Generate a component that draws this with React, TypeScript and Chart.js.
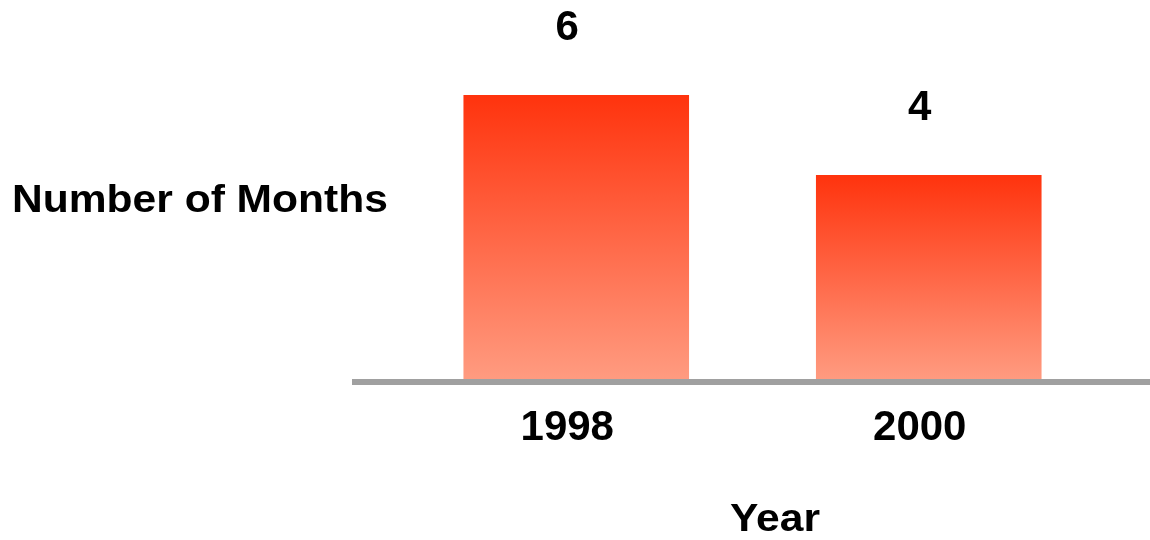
import React, { useEffect, useRef } from "react";
import { Chart, registerables } from "chart.js";

Chart.register(...registerables);

const years = ["1998", "2000"];
const months = [6, 4];
const axisMin = -1.1;
const axisMax = 8;

const FONT = '"Liberation Sans", Arial, Helvetica, sans-serif';
const TOP_COLOR = "#FF330D";
const BOTTOM_COLOR = "#FF9B80";

// draws a bold title slightly widened horizontally
function drawWideText(ctx: CanvasRenderingContext2D, text: string, x: number, y: number, align: CanvasTextAlign) {
  ctx.save();
  ctx.translate(x, y);
  ctx.scale(1.12, 1);
  ctx.font = `bold 38px ${FONT}`;
  ctx.textAlign = align;
  ctx.textBaseline = "alphabetic";
  ctx.fillStyle = "#000";
  ctx.fillText(text, 0, 0);
  ctx.restore();
}

const textPlugin = {
  id: "monthsText",
  afterDatasetsDraw(chart: any) {
    const { ctx, chartArea } = chart;
    const meta = chart.getDatasetMeta(0);
    ctx.save();

    // baseline running under both bars
    ctx.strokeStyle = "#A0A0A0";
    ctx.lineWidth = 6;
    ctx.beginPath();
    ctx.moveTo(chartArea.left - 48, chartArea.bottom + 3);
    ctx.lineTo(chart.width, chartArea.bottom + 3);
    ctx.stroke();

    // value labels above bars
    ctx.fillStyle = "#000";
    ctx.font = `bold 42px ${FONT}`;
    ctx.textAlign = "center";
    ctx.textBaseline = "middle";
    meta.data.forEach((bar: any, i: number) => {
      ctx.fillText(String(months[i]), bar.x - 9, bar.y - 67);
    });
    ctx.restore();

    // value-axis title, drawn horizontally
    drawWideText(ctx, "Number of Months", 12, 212, "left");
    // category-axis title
    drawWideText(ctx, "Year", 775, 531, "center");
  },
};

export default function App() {
  const canvasRef = useRef<HTMLCanvasElement | null>(null);

  useEffect(() => {
    if (!canvasRef.current) return;
    const chart = new Chart(canvasRef.current, {
      type: "bar",
      data: {
        labels: years,
        datasets: [
          {
            data: months,
            base: axisMin,
            barPercentage: 0.8,
            categoryPercentage: 0.8,
            borderWidth: 0,
            backgroundColor: (c: any) => {
              const chartRef = c.chart;
              const y = chartRef.scales && chartRef.scales.y;
              if (!y || c.raw === undefined) return TOP_COLOR;
              const top = y.getPixelForValue(c.raw);
              const bottom = y.getPixelForValue(axisMin);
              if (!isFinite(top) || !isFinite(bottom) || top === bottom) return TOP_COLOR;
              const g = chartRef.ctx.createLinearGradient(0, top, 0, bottom);
              g.addColorStop(0, TOP_COLOR);
              g.addColorStop(1, BOTTOM_COLOR);
              return g;
            },
          } as any,
        ],
      },
      options: {
        responsive: false,
        animation: false,
        layout: { padding: { left: 400, right: 45, top: 15, bottom: 0 } },
        plugins: {
          legend: { display: false },
          tooltip: { enabled: false },
          title: { display: false },
        },
        scales: {
          x: {
            grid: { display: false, drawTicks: false },
            border: { display: false },
            ticks: {
              color: "#000",
              font: { family: FONT, size: 42, weight: "bold" },
              padding: 24,
              labelOffset: -9,
            },
            afterFit: (scale: any) => {
              scale.height = 161;
            },
          },
          y: {
            display: false,
            min: axisMin,
            max: axisMax,
          },
        },
      },
      plugins: [textPlugin],
    } as any);
    return () => chart.destroy();
  }, []);

  return (
    <div style={{ position: "absolute", left: 0, top: 0, width: 1150, height: 540, background: "#fff" }}>
      <canvas ref={canvasRef} width={1150} height={540} />
    </div>
  );
}
